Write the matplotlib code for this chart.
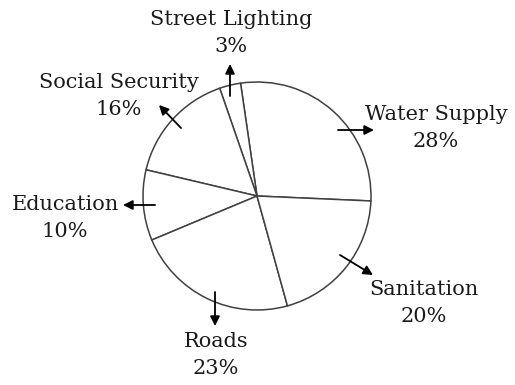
import matplotlib.pyplot as plt

# budget shares (%)
categories = ["Water Supply", "Street Lighting", "Social Security", "Education", "Roads", "Sanitation"]
shares = [28, 3, 16, 10, 23, 20]

# label layout in pixels (x, y from top): text centre, arrow tail, arrow tip
label_pos = [(436, 128), (231, 33), (119, 96), (65, 218), (216, 355), (424, 303)]
arrow_tail = [(338, 130), (230, 96), (181, 128), (155, 205), (215, 292), (340, 255)]
arrow_tip = [(374, 130), (230, 64), (159, 105), (123, 205), (215, 326), (373, 275)]

W, H = 515, 385
fig = plt.figure(figsize=(W / 100, H / 100), dpi=100)
ax = fig.add_axes([0, 0, 1, 1])

ax.pie(shares, startangle=-2.5, counterclock=True, center=(257, H - 196), radius=114,
       wedgeprops=dict(facecolor="white", edgecolor="#404040", linewidth=1.1))

ax.set_xlim(0, W)
ax.set_ylim(0, H)
ax.set_aspect("equal")
ax.axis("off")

for name, val, lp, t0, t1 in zip(categories, shares, label_pos, arrow_tail, arrow_tip):
    ax.annotate("", xy=(t1[0], H - t1[1]), xytext=(t0[0], H - t0[1]),
                arrowprops=dict(arrowstyle="-|>", color="black", lw=1.3,
                                mutation_scale=14, shrinkA=0, shrinkB=0))
    ax.text(lp[0], H - lp[1], f"{name}\n{val}%", ha="center", va="center",
            fontsize=15, family="DejaVu Serif", color="#1a1a1a", linespacing=1.5)

fig.savefig("out.png", dpi=100, facecolor="white")
